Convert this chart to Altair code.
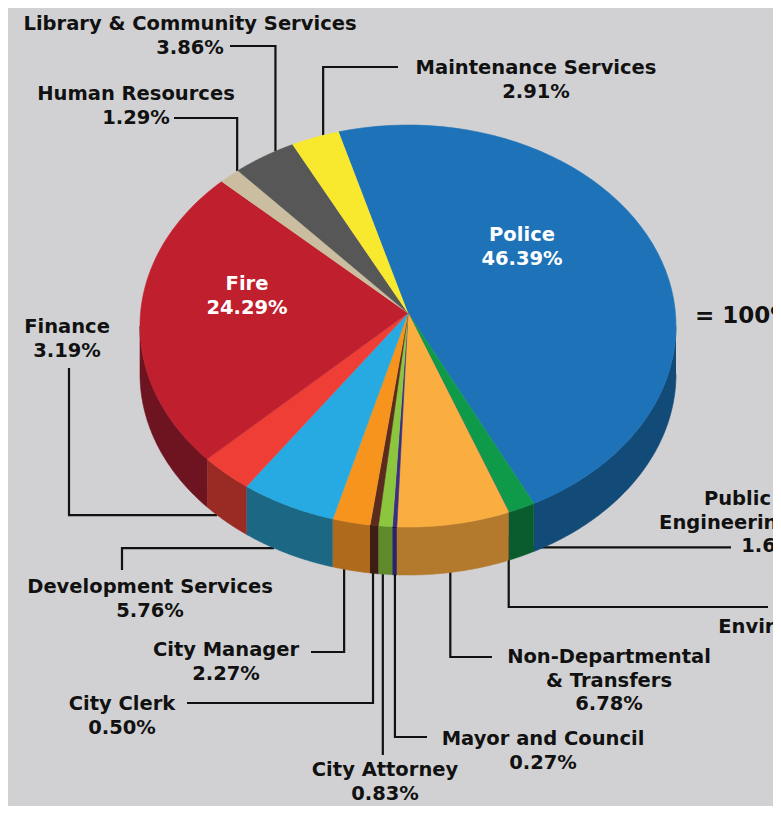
import altair as alt
import pandas as pd

# ---- data (clockwise from Police) ----
depts = ["Police", "Public Works", "Environmental", "Non-Departmental", "Mayor and Council",
         "City Attorney", "City Clerk", "City Manager", "Development Services", "Finance",
         "Fire", "Human Resources", "Library & Community Services", "Maintenance Services"]
values = [46.39, 1.63, 0.03, 6.78, 0.27, 0.83, 0.50, 2.27, 5.76, 3.19, 24.29, 1.29, 3.86, 2.91]

label_texts = ["Police\n46.39%", "Public Works\nEngineering Services\n1.63%",
               "Environmental Services\n0.03%", "Non-Departmental\n& Transfers\n6.78%",
               "Mayor and Council\n0.27%", "City Attorney\n0.83%", "City Clerk\n0.50%",
               "City Manager\n2.27%", "Development Services\n5.76%", "Finance\n3.19%",
               "Fire\n24.29%", "Human Resources\n1.29%", "Library & Community Services\n3.86%",
               "Maintenance Services\n2.91%"]

# ---- styles ----
top_colors = ["#1e73b8", "#0e9a48", "#c2667a", "#fbae40", "#3b2f82", "#8cc63f", "#5b2c1e",
              "#f7941d", "#27a9e1", "#ef3e35", "#c01f2e", "#cbbd9f", "#575757", "#f8e92f"]
side_colors = ["#124a78", "#0a5c2e", "#8a4050", "#b37a2e", "#2c2466", "#5e8a2c", "#3e1e14",
               "#b06a1c", "#1b6784", "#9a2a24", "#6e1420", "#8d836f", "#3a3a3a", "#b0a420"]

# ---- layout (reference pixel space) ----
CX, CY, A, B, D = 408, 326, 268, 201, 48   # ellipse centre, semi-axes, depth
APY = 313                                   # apex y
T0 = -105                                   # start angle of Police (deg)
N = 60

# label placement: centre x, first baseline y, colour
lab_x = [522, 775, 848, 609, 543, 385, 122, 226, 150, 67, 247, 136, 190, 536]
lab_y = [241, 505, 633, 663, 745, 776, 710, 656, 593, 333, 290, 100, 30, 74]
lab_color = ["white"] + ["black"] * 9 + ["white"] + ["black"] * 3

# leader lines: kind, fraction along slice, depth fraction, end x, end y
ld_kind = ["none", "H", "VH", "VH", "VH", "V", "VH", "VH", "HV", "HV", "none", "VH", "VH", "VH"]
ld_tf = [0, 0.5, 0.5, 0.53, 0.42, 0.68, 0.64, 0.69, 0.66, 0.73, 0, 0.95, 0.7, 0.67]
ld_df = [0, 0.82, 0.5, 0.5, 0.5, 0.5, 0.5, 0.5, 1.0, 1.0, 0, 0, 0, 0]
ld_x = [0, 731, 768, 492, 427, 0, 187, 311, 122, 69, 0, 174, 230, 398]
ld_y = [0, 0, 607, 657, 737, 755, 703, 652, 570, 368, 0, 118, 46, 67]

df = pd.DataFrame({
    "name": depts, "value": values, "idx": list(range(len(depts))),
    "label": label_texts, "lx": lab_x, "ly": lab_y, "lcolor": lab_color,
    "kind": ld_kind, "tf": ld_tf, "dfr": ld_df, "ex": ld_x, "ey": ld_y,
})

W, H = 765, 798
xs = alt.Scale(domain=[8, 8 + W], range=[0, W])
ys = alt.Scale(domain=[8, 8 + H], range=[0, H])
X = alt.X("px:Q", scale=xs, axis=None)
Y = alt.Y("py:Q", scale=ys, axis=None)
top_scale = alt.Scale(domain=depts, range=top_colors)
side_scale = alt.Scale(domain=depts, range=side_colors)

base = alt.Chart(df).transform_window(
    cum="sum(value)", sort=[alt.SortField("idx")], frame=[None, 0]
).transform_joinaggregate(total="sum(value)").transform_calculate(
    t0=f"{T0}*PI/180 + 2*PI*(datum.cum - datum.value)/datum.total",
    t1=f"{T0}*PI/180 + 2*PI*datum.cum/datum.total",
)

# top faces
top = base.transform_calculate(steps=f"sequence(-1, {N + 1})").transform_flatten(
    ["steps"]
).transform_calculate(
    ang=f"datum.t0 + (datum.t1 - datum.t0) * max(datum.steps, 0) / {N}",
    px=f"datum.steps < 0 ? {CX} : {CX} + {A}*cos(datum.ang)",
    py=f"datum.steps < 0 ? {APY} : {CY} + {B}*sin(datum.ang)",
).mark_line(filled=True, strokeWidth=0.6, interpolate="linear").encode(
    x=X, y=Y, detail="name:N", order="steps:Q",
    color=alt.Color("name:N", scale=top_scale, legend=None),
    stroke=alt.Stroke("name:N", scale=top_scale, legend=None),
)

# side faces (front half only)
side = base.transform_calculate(
    s="max(datum.t0, 0)", e="min(datum.t1, PI)"
).transform_filter("datum.e > datum.s").transform_calculate(
    steps=f"sequence(0, {2 * N + 2})"
).transform_flatten(["steps"]).transform_calculate(
    u=f"datum.steps <= {N} ? datum.steps/{N} : ({2 * N + 1} - datum.steps)/{N}",
    ang="datum.s + (datum.e - datum.s) * datum.u",
    px=f"{CX} + {A}*cos(datum.ang)",
    py=f"{CY} + {B}*sin(datum.ang) + (datum.steps > {N} ? {D} : 0)",
).mark_line(filled=True, strokeWidth=0.6).encode(
    x=X, y=Y, detail="name:N", order="steps:Q",
    color=alt.Color("name:N", scale=side_scale, legend=None),
    stroke=alt.Stroke("name:N", scale=side_scale, legend=None),
)

# leader lines
leaders = base.transform_filter("datum.kind != 'none'").transform_calculate(
    aa="datum.t0 + (datum.t1 - datum.t0) * datum.tf",
).transform_calculate(
    ax=f"{CX} + {A}*cos(datum.aa)",
    ay=f"{CY} + {B}*sin(datum.aa) + {D}*datum.dfr",
    steps="sequence(0, 3)",
).transform_flatten(["steps"]).transform_calculate(
    px="datum.steps == 0 ? datum.ax : (datum.kind == 'HV' || datum.kind == 'H' ? datum.ex : (datum.kind == 'V' ? datum.ax : (datum.steps == 1 ? datum.ax : datum.ex)))",
    py="datum.steps == 0 ? datum.ay : (datum.kind == 'H' ? datum.ay : (datum.kind == 'HV' ? (datum.steps == 1 ? datum.ay : datum.ey) : datum.ey))",
).mark_line(color="#111111", strokeWidth=2.2, strokeJoin="miter").encode(
    x=X, y=Y, detail="name:N", order="steps:Q"
)

FONT = "DejaVu Sans"
txt_common = dict(font=FONT, fontWeight="bold", fontSize=19.5, lineBreak="\n",
                  lineHeight=23.5, baseline="alphabetic", align="center")

lab_b = alt.Chart(df).transform_filter("datum.lcolor == 'black'").mark_text(
    color="#111111", **txt_common
).encode(
    x=alt.X("lx:Q", scale=xs, axis=None), y=alt.Y("ly:Q", scale=ys, axis=None), text="label:N"
)
lab_w = alt.Chart(df).transform_filter("datum.lcolor == 'white'").mark_text(
    color="white", **txt_common
).encode(
    x=alt.X("lx:Q", scale=xs, axis=None), y=alt.Y("ly:Q", scale=ys, axis=None), text="label:N"
)

total_df = pd.DataFrame({"px": [695], "py": [323], "t": ["= 100%"]})
total_txt = alt.Chart(total_df).mark_text(
    align="left", baseline="alphabetic", font=FONT, fontWeight="bold", fontSize=23, color="#111111"
).encode(x=X, y=Y, text="t:N")

chart = alt.layer(leaders, side, top, lab_b, lab_w, total_txt).resolve_scale(
    color="independent", stroke="independent"
).properties(
    width=W, height=H, background="#d1d1d3", padding=0,
    autosize=alt.AutoSizeParams(type="none"),
).configure_view(stroke=None)

chart.save("out.html", embed_options={"renderer": "svg", "actions": False})
